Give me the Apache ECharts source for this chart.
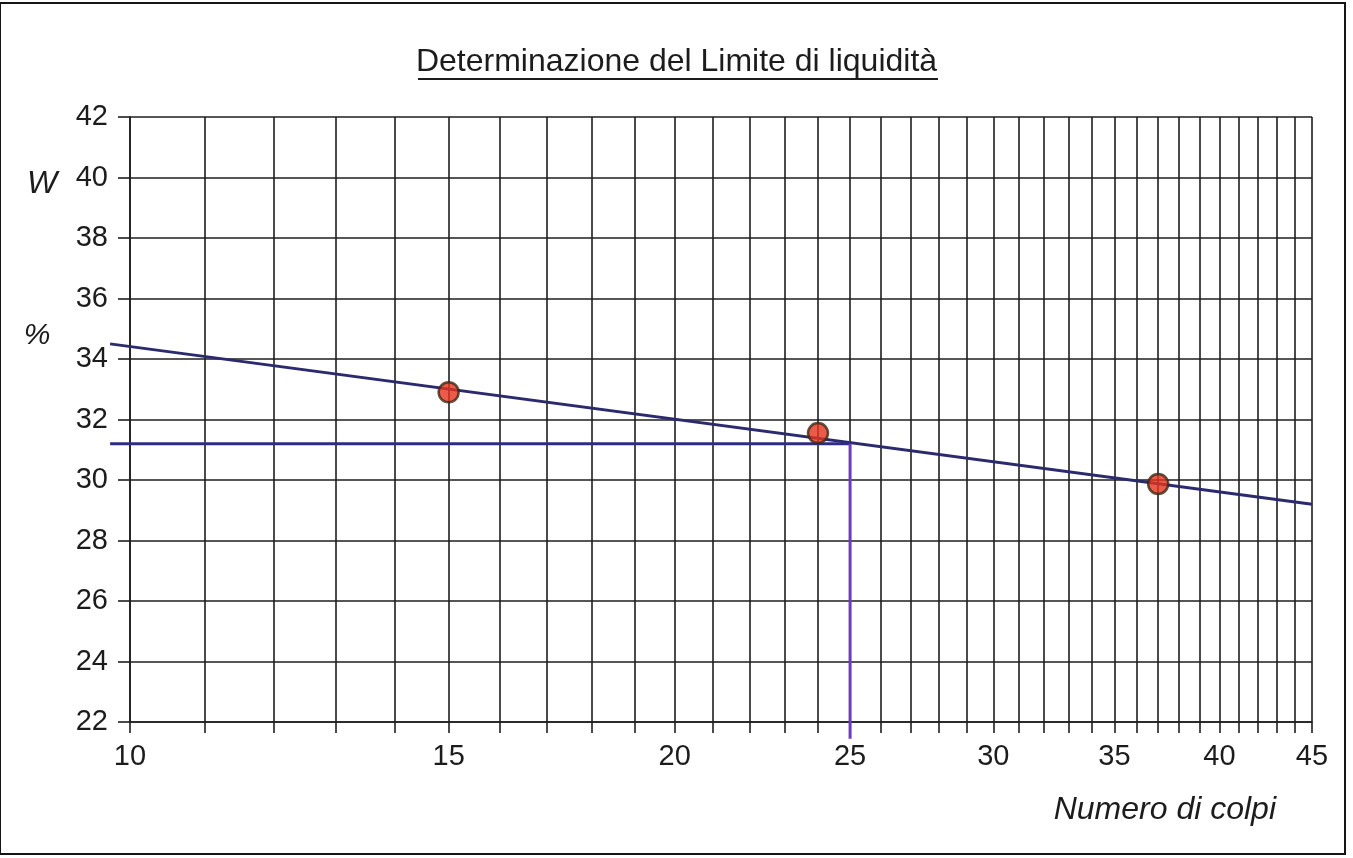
<!DOCTYPE html>
<html>
<head>
<meta charset="utf-8">
<title>Determinazione del Limite di liquidità</title>
<script src="https://cdn.jsdelivr.net/npm/echarts@6.0.0/dist/echarts.min.js"></script>
<style>
  html, body { margin: 0; padding: 0; background: #ffffff; }
  #chart { width: 1353px; height: 858px; }
</style>
</head>
<body>
<div id="chart"></div>
<script>
// Prova di Casagrande: numero di colpi e contenuto d'acqua W (%)
const colpi = [15, 24, 37];
const umidita = [32.9, 31.55, 29.87];

// Retta interpolante (scala logaritmica dei colpi)
const rettaColpi = [9.75, 45];
const rettaUmidita = [34.5, 29.2];

// Lettura del limite di liquidità a 25 colpi
const colpiRiferimento = 25;
const limiteLiquidita = 31.2;
const colpiInizioLettura = 9.75;
const umiditaFineLettura = 21.45;

// Suddivisione degli assi
const xGriglia = [10, 11, 12, 13, 14, 15, 16, 17, 18, 19, 20, 21, 22, 23, 24, 25, 26, 27,
                  28, 29, 30, 31, 32, 33, 34, 35, 36, 37, 38, 39, 40, 41, 42, 43, 44, 45];
const xEtichette = [10, 15, 20, 25, 30, 35, 40, 45];
const yMin = 22, yMax = 42, yPasso = 2;

const FONT = '"Liberation Sans", Arial, sans-serif';
const INK = '#1c1c1c';
const GRID_LINE = { color: '#1e1e1e', width: 1.6 };

// L'asse dei colpi è logaritmico: i valori vengono posti sull'asse come log10(n)
const lg = v => Math.log10(v);
const pairs = (xs, ys) => xs.map((x, i) => [lg(x), ys[i]]);

// Segmenti [x1, y1, x2, y2] in coordinate dati
const segmento = (xa, ya, xb, yb) => [lg(xa), ya, lg(xb), yb];

// Serie personalizzata per tracciare segmenti anche oltre i limiti degli assi
function serieSegmenti(nome, dati, colore) {
  return {
    name: nome,
    type: 'custom',
    coordinateSystem: 'cartesian2d',
    clip: false,
    z: 3,
    encode: { x: [0, 2], y: [1, 3] },
    data: dati,
    renderItem: (params, api) => {
      const a = api.coord([api.value(0), api.value(1)]);
      const b = api.coord([api.value(2), api.value(3)]);
      return {
        type: 'line',
        shape: { x1: a[0], y1: a[1], x2: b[0], y2: b[1] },
        style: { stroke: colore, lineWidth: 3, lineCap: 'butt' }
      };
    }
  };
}

const chart = echarts.init(document.getElementById('chart'), null, { renderer: 'canvas' });

chart.setOption({
  backgroundColor: '#ffffff',
  animation: false,
  title: {
    text: 'Determinazione del Limite di liquidità',
    left: 'center',
    top: 41,
    textStyle: { fontFamily: FONT, fontSize: 32, fontWeight: 'normal', color: INK }
  },
  grid: { left: 130, right: 41, top: 117, bottom: 136, containLabel: false },
  xAxis: {
    type: 'value',
    min: lg(xGriglia[0]),
    max: lg(xGriglia[xGriglia.length - 1]),
    axisLine: { show: true, lineStyle: GRID_LINE },
    axisTick: { show: true, length: 11, customValues: xGriglia.map(lg), lineStyle: GRID_LINE },
    splitLine: { show: true, lineStyle: GRID_LINE },
    axisLabel: {
      customValues: xEtichette.map(lg),
      margin: 20,
      fontFamily: FONT,
      fontSize: 29,
      color: INK,
      formatter: v => String(Math.round(Math.pow(10, v)))
    }
  },
  yAxis: {
    type: 'value',
    min: yMin,
    max: yMax,
    interval: yPasso,
    axisLine: { show: true, lineStyle: GRID_LINE },
    axisTick: { show: true, length: 12, lineStyle: GRID_LINE },
    splitLine: { show: true, lineStyle: GRID_LINE },
    axisLabel: {
      margin: 22,
      fontFamily: FONT,
      fontSize: 29,
      color: INK,
      padding: [0, 0, 10, 0]
    }
  },
  series: [
    serieSegmenti('Retta',
      [segmento(rettaColpi[0], rettaUmidita[0], rettaColpi[1], rettaUmidita[1])],
      '#2b2a6e'),
    serieSegmenti('Limite di liquidità',
      [segmento(colpiInizioLettura, limiteLiquidita, colpiRiferimento, limiteLiquidita)],
      '#2e2d82'),
    serieSegmenti('25 colpi',
      [segmento(colpiRiferimento, limiteLiquidita, colpiRiferimento, umiditaFineLettura)],
      '#6b3cc0'),
    {
      name: 'Determinazioni',
      type: 'scatter',
      data: pairs(colpi, umidita),
      symbol: 'circle',
      symbolSize: 20,
      z: 5,
      itemStyle: { color: '#e6321c', borderColor: '#3a2b14', borderWidth: 2.5 }
    }
  ],
  graphic: [
    {
      type: 'rect',
      silent: true,
      shape: { x: 0, y: 3, width: 1345, height: 851 },
      style: { fill: 'none', stroke: '#151515', lineWidth: 2 }
    },
    {
      type: 'line',
      silent: true,
      shape: { x1: 418, y1: 79, x2: 938, y2: 79 },
      style: { stroke: INK, lineWidth: 2 }
    },
    {
      type: 'text',
      silent: true,
      style: {
        x: 42, y: 184, text: 'W',
        font: 'italic 32px ' + FONT, fill: INK,
        textAlign: 'center', textVerticalAlign: 'middle'
      }
    },
    {
      type: 'text',
      silent: true,
      style: {
        x: 37, y: 336, text: '%',
        font: 'italic 30px ' + FONT, fill: INK,
        textAlign: 'center', textVerticalAlign: 'middle'
      }
    },
    {
      type: 'text',
      silent: true,
      style: {
        x: 1276, y: 810, text: 'Numero di colpi',
        font: 'italic 32px ' + FONT, fill: INK,
        textAlign: 'right', textVerticalAlign: 'middle'
      }
    }
  ]
});
</script>
</body>
</html>
